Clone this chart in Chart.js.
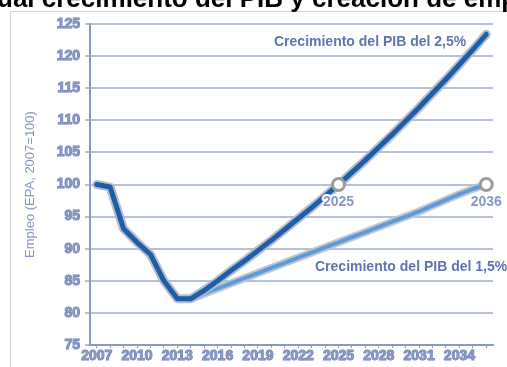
<!DOCTYPE html>
<html>
<head>
<meta charset="utf-8">
<script src="https://cdn.jsdelivr.net/npm/chart.js@4"></script>
<style>
  body { margin: 0; width: 507px; height: 367px; overflow: hidden; background: #fff; position: relative; font-family: "Liberation Sans", Arial, sans-serif; }
  #marco { position: absolute; left: 10px; top: 11px; width: 600px; height: 400px; border: 1px solid #d4d4d4; }
  #wrap { position: absolute; left: 0; top: 0; }
  #titulo { position: absolute; left: -3px; top: -17px; font-weight: bold; font-size: 26px; line-height: 30px; white-space: nowrap; color: #000; }
</style>
</head>
<body>
<div id="marco"></div>
<div id="wrap"><canvas id="grafico" width="507" height="367"></canvas></div>
<div id="titulo">ual crecimiento del PIB y creación de empleo</div>
<script>
const anios = [2007, 2008, 2009, 2010, 2011, 2012, 2013, 2014, 2015, 2016,
  2017, 2018, 2019, 2020, 2021, 2022, 2023, 2024, 2025, 2026,
  2027, 2028, 2029, 2030, 2031, 2032, 2033, 2034, 2035, 2036];

// escenario PIB 2,5%
const empleo25 = [100, 99.6, 93.1, 91.0, 89.1, 85.0, 82.2, 82.2, 83.5, 85.0,
  86.6, 88.1, 89.7, 91.3, 93.0, 94.7, 96.4, 98.2, 100, 101.9,
  103.8, 105.8, 107.8, 109.9, 112.0, 114.2, 116.4, 118.7, 121.0, 123.4];

// escenario PIB 1,5% (parte de 2014)
const empleo15 = [null, null, null, null, null, null, null, 82.2, 83.0, 83.8,
  84.6, 85.4, 86.2, 87.0, 87.8, 88.6, 89.4, 90.2, 91.0, 91.8,
  92.6, 93.4, 94.2, 95.0, 95.8, 96.7, 97.6, 98.5, 99.3, 100];

const ejeYMin = 75, ejeYMax = 125, ejeYPaso = 5;
const marca25 = 2025, marca15 = 2036;

const textos = [
  { texto: 'Crecimiento del PIB del 2,5%', anio: 2027.35, valor: 122.1, align: 'center' },
  { texto: 'Crecimiento del PIB del 1,5%', anio: 2023.25, valor: 87.2, align: 'left' }
];

const azulEje = '#8a9ac8';
const azulTexto = '#8797c6';
const azulBorde = '#6c7cae';

const idx25 = anios.indexOf(marca25);
const idx15 = anios.indexOf(marca15);

const textoPlugin = {
  id: 'textos',
  afterDatasetsDraw(chart) {
    const c = chart.ctx;
    const x = chart.scales.x, y = chart.scales.y;
    c.save();
    c.font = 'bold 14px "Liberation Sans", Arial';
    c.textBaseline = 'middle';
    c.lineJoin = 'round';
    textos.forEach(t => {
      const px = x.getPixelForValue(t.anio - anios[0]);
      const py = y.getPixelForValue(t.valor);
      c.textAlign = t.align;
      c.lineWidth = 4;
      c.strokeStyle = '#ffffff';
      c.strokeText(t.texto, px, py);
      c.fillStyle = '#5f74b0';
      c.fillText(t.texto, px, py);
    });
    // etiquetas de los marcadores
    [[3, idx25, marca25], [1, idx15, marca15]].forEach(([ds, i, anio]) => {
      const p = chart.getDatasetMeta(ds).data[i];
      c.textAlign = 'center';
      c.lineWidth = 4;
      c.strokeStyle = '#ffffff';
      c.strokeText(String(anio), p.x, p.y + 18);
      c.fillStyle = azulTexto;
      c.fillText(String(anio), p.x, p.y + 18);
    });
    c.restore();
  }
};

new Chart(grafico, {
  type: 'line',
  data: {
    labels: anios,
    datasets: [
      { data: empleo15, borderColor: 'rgba(185,192,205,0.9)', borderWidth: 8, pointRadius: 0, order: 4 },
      { data: empleo15, borderColor: '#5d9cd9', borderWidth: 4, order: 3,
        pointRadius: ctx => ctx.dataIndex === idx15 ? 6 : 0,
        pointBackgroundColor: '#fff', pointBorderColor: '#9c9c9c', pointBorderWidth: 3 },
      { data: empleo25, borderColor: 'rgba(175,182,198,0.9)', borderWidth: 9, pointRadius: 0, order: 2 },
      { data: empleo25, borderColor: '#1e5ea8', borderWidth: 5, order: 1,
        pointRadius: ctx => ctx.dataIndex === idx25 ? 6 : 0,
        pointBackgroundColor: '#fff', pointBorderColor: '#9c9c9c', pointBorderWidth: 3 }
    ]
  },
  options: {
    responsive: false,
    animation: false,
    layout: { padding: { left: 22, top: 24, right: 14, bottom: 0 } },
    plugins: { legend: { display: false }, tooltip: { enabled: false } },
    elements: { line: { tension: 0, borderJoinStyle: 'round', borderCapStyle: 'round' } },
    scales: {
      x: {
        offset: true,
        grid: { drawOnChartArea: false, color: azulEje, tickLength: 3, lineWidth: 1 },
        border: { color: azulEje, width: 2 },
        ticks: {
          autoSkip: false, maxRotation: 0, padding: 0, color: azulTexto,
          textStrokeColor: azulBorde, textStrokeWidth: 1,
          font: { family: '"Liberation Sans", Arial', size: 14, weight: 'bold' },
          callback: (v, i) => i % 3 === 0 ? anios[i] : ''
        },
        afterFit: s => { s.height = 22; }
      },
      y: {
        min: ejeYMin, max: ejeYMax,
        grid: { color: '#b3c1dc', lineWidth: 2, tickLength: 5 },
        border: { color: azulEje, width: 2 },
        ticks: {
          stepSize: ejeYPaso, padding: 5, color: azulTexto,
          textStrokeColor: azulBorde, textStrokeWidth: 1,
          font: { family: '"Liberation Sans", Arial', size: 14, weight: 'bold' }
        },
        title: {
          display: true, text: 'Empleo (EPA, 2007=100)', color: azulTexto,
          font: { family: '"Liberation Sans", Arial', size: 13 },
          padding: { top: 1, bottom: 0 }
        },
        afterFit: s => { s.width = 68; }
      }
    }
  },
  plugins: [textoPlugin]
});
</script>
</body>
</html>
